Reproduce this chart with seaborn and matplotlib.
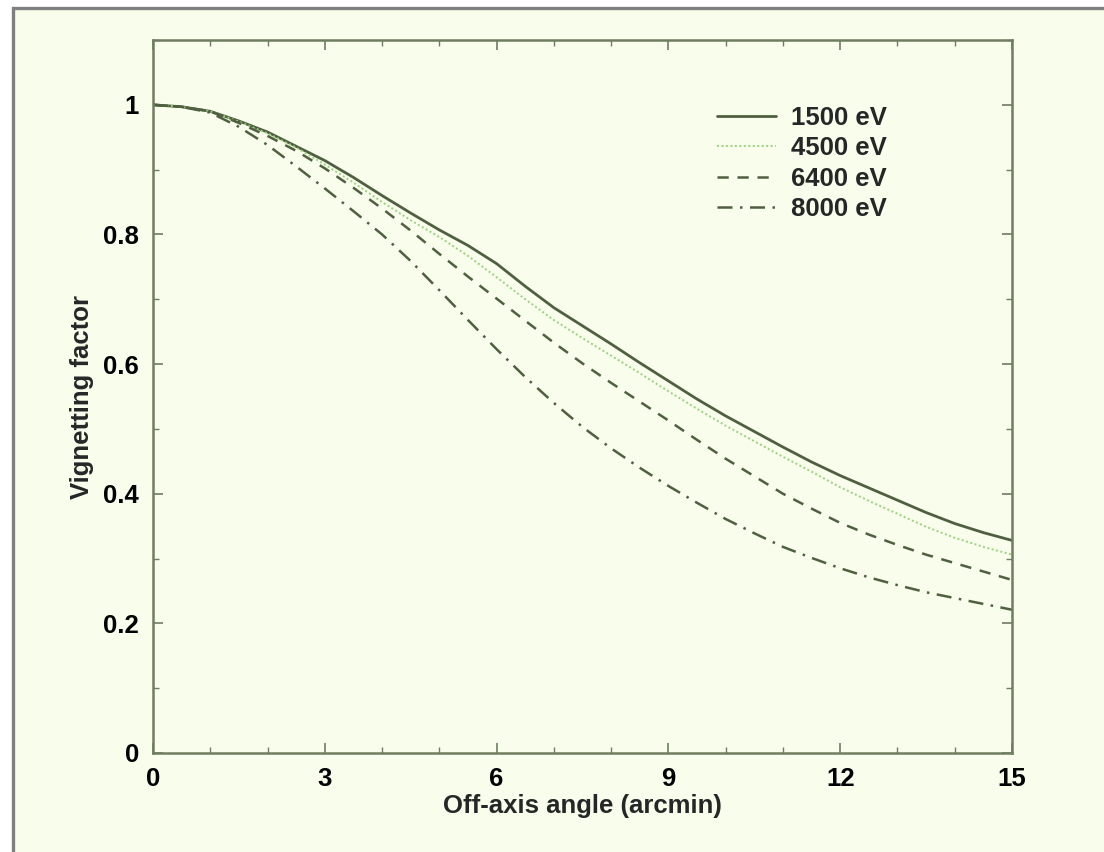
import numpy as np
import pandas as pd
import matplotlib
matplotlib.use("Agg")
import matplotlib.pyplot as plt
import matplotlib.patches as mpatches
from matplotlib.lines import Line2D
import seaborn as sns

# ---- data ----
angle = [0, 0.5, 1, 1.5, 2, 2.5, 3, 3.5, 4, 4.5, 5, 5.5, 6, 6.5, 7, 7.5,
         8, 8.5, 9, 9.5, 10, 10.5, 11, 11.5, 12, 12.5, 13, 13.5, 14, 14.5, 15]
v1500 = [1.000, 0.997, 0.990, 0.975, 0.958, 0.936, 0.914, 0.888, 0.860, 0.833, 0.807,
         0.783, 0.755, 0.720, 0.687, 0.659, 0.631, 0.602, 0.574, 0.546, 0.520, 0.496,
         0.472, 0.449, 0.428, 0.409, 0.390, 0.371, 0.354, 0.340, 0.328]
v4500 = [1.000, 0.997, 0.990, 0.974, 0.956, 0.934, 0.908, 0.880, 0.850, 0.822, 0.796,
         0.767, 0.734, 0.700, 0.668, 0.640, 0.613, 0.586, 0.558, 0.531, 0.505, 0.481,
         0.457, 0.434, 0.410, 0.389, 0.369, 0.349, 0.332, 0.318, 0.306]
v6400 = [1.000, 0.997, 0.990, 0.972, 0.952, 0.929, 0.902, 0.872, 0.840, 0.806, 0.770,
         0.735, 0.701, 0.667, 0.633, 0.601, 0.571, 0.542, 0.513, 0.483, 0.454, 0.427,
         0.400, 0.377, 0.355, 0.337, 0.321, 0.306, 0.293, 0.280, 0.267]
v8000 = [1.000, 0.997, 0.988, 0.966, 0.938, 0.905, 0.871, 0.836, 0.800, 0.759, 0.714,
         0.668, 0.623, 0.580, 0.540, 0.503, 0.470, 0.440, 0.412, 0.386, 0.361, 0.339,
         0.318, 0.301, 0.285, 0.271, 0.259, 0.248, 0.239, 0.230, 0.221]
labels = ["1500 eV", "4500 eV", "6400 eV", "8000 eV"]
xticks = [0, 3, 6, 9, 12, 15]
yticks = [0, 0.2, 0.4, 0.6, 0.8, 1.0]
yticklabels = ["0", "0.2", "0.4", "0.6", "0.8", "1"]

series = [v1500, v4500, v6400, v8000]
df = pd.concat([pd.DataFrame({"angle": angle, "vig": s, "energy": lab})
                for s, lab in zip(series, labels)], ignore_index=True)

sns.set_theme(style="ticks")
plt.rcParams["font.family"] = ["Liberation Sans", "DejaVu Sans"]
plt.rcParams["font.weight"] = "bold"

bg = "#f8fdec"
dark = "#4f5f40"
light = "#9bd27c"
spine = "#6f7d60"
fs = 18.5

fig = plt.figure(figsize=(11.04, 8.52), dpi=100, facecolor="white")
frame = mpatches.Rectangle((13 / 1104, -0.2), 1.3, 1.2 - 8 / 852,
                           transform=fig.transFigure, facecolor=bg,
                           edgecolor="#808080", lw=2.4, zorder=-10)
fig.patches.append(frame)

ax = fig.add_axes([153 / 1104, 1 - 753 / 852, (1012 - 153) / 1104, (753 - 40) / 852])
ax.set_facecolor(bg)
ax.set_zorder(1)

palette = {labels[0]: dark, labels[1]: light, labels[2]: dark, labels[3]: dark}
dashes = {labels[0]: "", labels[1]: (1, 1.3), labels[2]: (4.5, 3.5), labels[3]: (6, 3, 1, 3)}
sizes = {labels[0]: 2.0, labels[1]: 1.4, labels[2]: 1.8, labels[3]: 1.8}

sns.lineplot(data=df, x="angle", y="vig", hue="energy", style="energy",
             size="energy", sizes=sizes, palette=palette, dashes=dashes,
             estimator=None, sort=False, ax=ax, legend=False)

ax.set_xlim(0, 15)
ax.set_ylim(0, 1.1)
ax.set_xticks(xticks)
ax.set_xticks(np.arange(0, 15.01, 1), minor=True)
ax.set_yticks(yticks)
ax.set_yticklabels(yticklabels)
ax.set_yticks(np.arange(0, 1.101, 0.1), minor=True)
ax.tick_params(which="both", direction="in", top=True, right=True,
               color=spine, labelsize=fs, labelcolor="black")
ax.tick_params(which="major", length=7, width=1.2, pad=10)
ax.tick_params(which="minor", length=4, width=1.0)
for lab in ax.get_xticklabels() + ax.get_yticklabels():
    lab.set_fontweight("bold")
for s in ax.spines.values():
    s.set_color(spine)
    s.set_linewidth(1.8)

ax.set_xlabel("Off-axis angle (arcmin)", fontsize=fs, fontweight="bold", labelpad=2)
ax.set_ylabel("Vignetting factor", fontsize=fs, fontweight="bold", labelpad=7)

handles = []
lw_map = [2.0, 1.4, 1.8, 1.8]
ls_map = ["-", (0, (1, 1.3)), (0, (4.5, 3.5)), (0, (6, 3, 1, 3))]
col_map = [dark, light, dark, dark]
for lab, lw, ls, c in zip(labels, lw_map, ls_map, col_map):
    handles.append(Line2D([0], [0], color=c, lw=lw, linestyle=ls, label=lab))
leg = ax.legend(handles=handles, loc="upper left", bbox_to_anchor=(0.645, 0.922),
                frameon=False, fontsize=fs, handlelength=2.3, handletextpad=0.55,
                labelspacing=0.25, borderaxespad=0)
for t in leg.get_texts():
    t.set_fontweight("bold")

fig.savefig("out.png", dpi=100, facecolor="white")
